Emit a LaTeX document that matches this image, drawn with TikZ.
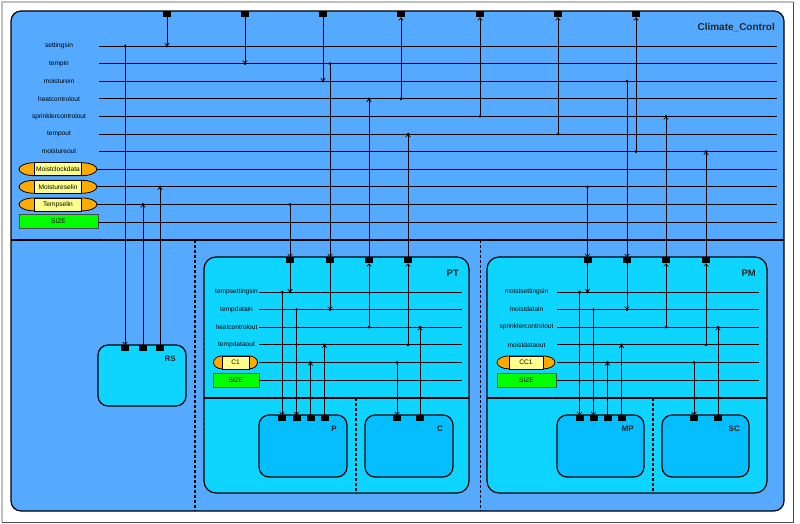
\documentclass[tikz,border=0pt]{standalone}
\usepackage{fontspec}
\setmainfont{Liberation Sans}
\usetikzlibrary{arrows.meta}
\definecolor{CCBlue}{RGB}{85,170,255}
\definecolor{CCCyan}{RGB}{13,213,255}
\definecolor{CCDeep}{RGB}{5,190,255}
\definecolor{CCOrange}{RGB}{255,170,0}
\definecolor{CCYellow}{RGB}{255,255,140}
\definecolor{CCGreen}{RGB}{0,255,0}
\newcommand{\smallfont}{\fontsize{6.6}{7}\selectfont}
\newcommand{\jdot}[1]{\fill #1 circle (1.5);}
\newcommand{\sigport}[2]{%
  \node[fill=black,minimum width=8pt,minimum height=6pt,inner sep=0pt,
    anchor=north] (#1) at #2 {};
}
\newcommand{\capsule}[5]{% position, name, outer half width, inner half width, text
  \begin{scope}[shift={#1}]
    \pgfmathsetmacro{\capend}{#3-#4}
    \draw[fill=CCOrange,line width=0.8pt]
      (-#4,-6.5) -- (#4,-6.5)
      arc[start angle=-90,end angle=90,x radius=\capend,y radius=6.5]
      -- (-#4,6.5)
      arc[start angle=90,end angle=270,x radius=\capend,y radius=6.5] -- cycle;
    \draw[fill=CCYellow,line width=0.8pt] (-#4,-6.5) rectangle (#4,6.5);
    \node[font=\smallfont,inner sep=0pt] (#2) at (0,0) {#5};
  \end{scope}
}

\begin{document}
\begin{tikzpicture}[x=1pt,y=-1pt,
    sig/.style={line width=0.7pt},
    boxline/.style={line width=1.2pt},
    dashline/.style={line width=1.2pt,dash pattern=on 3pt off 2pt},
    unitbox/.style={draw,line width=1.2pt,rounded corners=10pt},
    siglabel/.style={font=\smallfont,inner sep=0pt},
    sizebox/.style={draw=black!70,line width=0.8pt,fill=CCGreen,
      minimum height=14pt,inner sep=0pt,font=\smallfont},
    boxtitle/.style={font=\bfseries\fontsize{8}{9}\selectfont,anchor=east,
      inner sep=0pt,text=black!85},
    >={Straight Barb[length=2.5pt,width=4.5pt]}]
  \fill[white,use as bounding box] (0,0) rectangle (800,524);
  \draw[gray!50,line width=1.5pt] (2,522) |- (793,2);
  \draw[black!70,line width=1pt] (793,2) |- (2,522);

  % Boxes {{{
  \draw[unitbox,fill=CCBlue] (11,11) rectangle (784,511);
  \draw[boxline] (11,240) -- (784,240);
  \draw[dashline] (195,240) -- (195,511);
  \draw[dashline] (480.5,240) -- (480.5,511);

  \draw[unitbox,fill=CCCyan,rounded corners=12pt] (204,257) rectangle (469,493);
  \draw[boxline] (204,398) -- (469,398);
  \draw[dashline] (356,398) -- (356,493);
  \draw[unitbox,fill=CCCyan,rounded corners=12pt] (487,257) rectangle (767,493);
  \draw[boxline] (487,398) -- (767,398);
  \draw[dashline] (653,398) -- (653,493);

  \draw[unitbox,fill=CCCyan] (98,345) rectangle (186,406);
  \draw[unitbox,fill=CCDeep] (259,415) rectangle (347,477);
  \draw[unitbox,fill=CCDeep] (365,415) rectangle (453,477);
  \draw[unitbox,fill=CCDeep] (557,415) rectangle (644,477);
  \draw[unitbox,fill=CCDeep] (662,415) rectangle (749,477);

  \node[boxtitle,font=\bfseries\fontsize{10}{11}\selectfont] (cc-title) at (775,27) {Climate\_Control};
  \node[boxtitle,font=\bfseries\fontsize{9.5}{10}\selectfont] (pt-title) at (459,273) {PT};
  \node[boxtitle,font=\bfseries\fontsize{9.5}{10}\selectfont] (pm-title) at (756,273) {PM};
  \node[boxtitle] (rs-title) at (176,359) {RS};
  \node[boxtitle] (p-title) at (337,429) {P};
  \node[boxtitle] (c-title) at (443,429) {C};
  \node[boxtitle] (mp-title) at (634,429) {MP};
  \node[boxtitle] (sc-title) at (740,429) {SC};
  % }}}

  % Ports {{{
  \sigport{cc-1}{(167,11)}
  \sigport{cc-2}{(245,11)}
  \sigport{cc-3}{(323,11)}
  \sigport{cc-4}{(401,11)}
  \sigport{cc-5}{(480,11)}
  \sigport{cc-6}{(558,11)}
  \sigport{cc-7}{(636,11)}
  \sigport{rs-1}{(125,345)}
  \sigport{rs-2}{(143,345)}
  \sigport{rs-3}{(160,345)}
  \sigport{pt-1}{(290,257)}
  \sigport{pt-2}{(330,257)}
  \sigport{pt-3}{(369,257)}
  \sigport{pt-4}{(408,257)}
  \sigport{pm-1}{(587.5,257)}
  \sigport{pm-2}{(627,257)}
  \sigport{pm-3}{(666,257)}
  \sigport{pm-4}{(706,257)}
  \sigport{p-1}{(282,415)}
  \sigport{p-2}{(296.5,415)}
  \sigport{p-3}{(310.5,415)}
  \sigport{p-4}{(324.5,415)}
  \sigport{c-1}{(397,415)}
  \sigport{c-2}{(420,415)}
  \sigport{mp-1}{(579.5,415)}
  \sigport{mp-2}{(593.5,415)}
  \sigport{mp-3}{(607.5,415)}
  \sigport{mp-4}{(621.5,415)}
  \sigport{sc-1}{(694,415)}
  \sigport{sc-2}{(718,415)}
  % }}}

  % Climate_Control signals {{{
  \node[siglabel] (settingsin) at (59,46) {settingsin};
  \node[siglabel] (tempin) at (59,63.6) {tempin};
  \node[siglabel] (moisturein) at (59,81.2) {moisturein};
  \node[siglabel] (heatcontrolout) at (59,98.8) {heatcontrolout};
  \node[siglabel] (sprinklercontrolout) at (59,116.4) {sprinklercontrolout};
  \node[siglabel] (tempout) at (59,134) {tempout};
  \node[siglabel] (moistureout) at (59,151.6) {moistureout};
  \capsule{(58,169.2)}{moistclockdata}{39}{23.5}{Moistclockdata}
  \capsule{(58,186.8)}{moistureselin}{39}{23.5}{Moistureselin}
  \capsule{(58,204.4)}{tempselin}{39}{23.5}{Tempselin}
  \node[sizebox,minimum width=79pt] (size-cc) at (58.5,221) {SIZE};

  \draw[sig] (99,46) coordinate (settingsin-a) -- (777,46);
  \draw[sig] (99,63.6) coordinate (tempin-a) -- (777,63.6);
  \draw[sig] (99,81.2) coordinate (moisturein-a) -- (777,81.2);
  \draw[sig] (99,98.8) coordinate (heatcontrolout-a) -- (777,98.8);
  \draw[sig] (99,116.4) coordinate (sprinklercontrolout-a) -- (777,116.4);
  \draw[sig] (99,134) coordinate (tempout-a) -- (777,134);
  \draw[sig] (99,151.6) coordinate (moistureout-a) -- (777,151.6);
  \draw[sig] (moistclockdata.east -| 97,0) coordinate (moistclockdata-a) -- (777,169.2);
  \draw[sig] (moistureselin.east -| 97,0) coordinate (moistureselin-a) -- (777,186.8);
  \draw[sig] (tempselin.east -| 97,0) coordinate (tempselin-a) -- (777,204.4);
  \draw[sig] (size-cc.east |- 0,222) coordinate (size-cc-a) -- (777,222);

  \draw[sig,->] (cc-1.south) -- (cc-1.south |- settingsin-a);
  \draw[sig,->] (cc-2.south) -- (cc-2.south |- tempin-a);
  \draw[sig,->] (cc-3.south) -- (cc-3.south |- moisturein-a);
  \draw[sig,->] (cc-4.south |- heatcontrolout-a) -- (cc-4.south);
  \draw[sig,->] (cc-5.south |- sprinklercontrolout-a) -- (cc-5.south);
  \draw[sig,->] (cc-6.south |- tempout-a) -- (cc-6.south);
  \draw[sig,->] (cc-7.south |- moistureout-a) -- (cc-7.south);
  \jdot{(cc-1.south |- settingsin-a)}
  \jdot{(cc-2.south |- tempin-a)}
  \jdot{(cc-3.south |- moisturein-a)}
  \jdot{(cc-4.south |- heatcontrolout-a)}
  \jdot{(cc-5.south |- sprinklercontrolout-a)}
  \jdot{(cc-6.south |- tempout-a)}
  \jdot{(cc-7.south |- moistureout-a)}

  \draw[sig,->] (rs-1.north |- settingsin-a) -- (rs-1.north);
  \draw[sig,->] (rs-2.north) -- (rs-2.north |- tempselin-a);
  \draw[sig,->] (rs-3.north) -- (rs-3.north |- moistureselin-a);
  \draw[sig,->] (pt-1.north |- tempselin-a) -- (pt-1.north);
  \draw[sig,->] (pt-2.north |- tempin-a) -- (pt-2.north);
  \draw[sig,->] (pt-3.north) -- (pt-3.north |- heatcontrolout-a);
  \draw[sig,->] (pt-4.north) -- (pt-4.north |- tempout-a);
  \draw[sig,->] (pm-1.north |- moistureselin-a) -- (pm-1.north);
  \draw[sig,->] (pm-2.north |- moisturein-a) -- (pm-2.north);
  \draw[sig,->] (pm-3.north) -- (pm-3.north |- sprinklercontrolout-a);
  \draw[sig,->] (pm-4.north) -- (pm-4.north |- moistureout-a);
  \jdot{(rs-1.north |- settingsin-a)}
  \jdot{(rs-2.north |- tempselin-a)}
  \jdot{(rs-3.north |- moistureselin-a)}
  \jdot{(pt-1.north |- tempselin-a)}
  \jdot{(pt-2.north |- tempin-a)}
  \jdot{(pt-3.north |- heatcontrolout-a)}
  \jdot{(pt-4.north |- tempout-a)}
  \jdot{(pm-1.north |- moistureselin-a)}
  \jdot{(pm-2.north |- moisturein-a)}
  \jdot{(pm-3.north |- sprinklercontrolout-a)}
  \jdot{(pm-4.north |- moistureout-a)}
  % }}}

  % PT signals {{{
  \node[siglabel] (tempsettingsin) at (236.5,292) {tempsettingsin};
  \node[siglabel] (tempdatain) at (236.5,309.6) {tempdatain};
  \node[siglabel] (pt-heatcontrolout) at (236.5,327.2) {heatcontrolout};
  \node[siglabel] (tempdataout) at (236.5,344.8) {tempdataout};
  \capsule{(235.5,362.4)}{cap-c1}{22}{13.5}{C1}
  \node[sizebox,minimum width=46pt] (size-pt) at (236,380) {SIZE};

  \draw[sig] (259,292) coordinate (tempsettingsin-a) -- (462,292);
  \draw[sig] (259,309.6) coordinate (tempdatain-a) -- (462,309.6);
  \draw[sig] (259,327.2) coordinate (pt-heatcontrolout-a) -- (462,327.2);
  \draw[sig] (259,344.8) coordinate (tempdataout-a) -- (462,344.8);
  \draw[sig] (259,362.4) coordinate (cap-c1-a) -- (462,362.4);
  \draw[sig] (259,380) coordinate (size-pt-a) -- (462,380);

  \draw[sig,->] (pt-1.south) -- (pt-1.south |- tempsettingsin-a);
  \draw[sig,->] (pt-2.south) -- (pt-2.south |- tempdatain-a);
  \draw[sig,->] (pt-3.south |- pt-heatcontrolout-a) -- (pt-3.south);
  \draw[sig,->] (pt-4.south |- tempdataout-a) -- (pt-4.south);
  \draw[sig,->] (p-1.north |- tempsettingsin-a) -- (p-1.north);
  \draw[sig,->] (p-2.north |- tempdatain-a) -- (p-2.north);
  \draw[sig,->] (p-3.north) -- (p-3.north |- cap-c1-a);
  \draw[sig,->] (p-4.north) -- (p-4.north |- tempdataout-a);
  \draw[sig,->] (c-1.north |- cap-c1-a) -- (c-1.north);
  \draw[sig,->] (c-2.north) -- (c-2.north |- pt-heatcontrolout-a);
  \jdot{(pt-1.south |- tempsettingsin-a)}
  \jdot{(pt-2.south |- tempdatain-a)}
  \jdot{(pt-3.south |- pt-heatcontrolout-a)}
  \jdot{(pt-4.south |- tempdataout-a)}
  \jdot{(p-1.north |- tempsettingsin-a)}
  \jdot{(p-2.north |- tempdatain-a)}
  \jdot{(p-3.north |- cap-c1-a)}
  \jdot{(p-4.north |- tempdataout-a)}
  \jdot{(c-1.north |- cap-c1-a)}
  \jdot{(c-2.north |- pt-heatcontrolout-a)}
  % }}}

  % PM signals {{{
  \node[siglabel] (moistsettingsin) at (526.5,292) {moistsettingsin};
  \node[siglabel] (moistdatain) at (526.5,309.6) {moistdatain};
  \node[siglabel] (pm-sprinklercontrolout) at (526.5,327.2) {sprinklercontrolout};
  \node[siglabel] (moistdataout) at (526.5,344.8) {moistdataout};
  \capsule{(526,362.4)}{cap-cc1}{29}{17}{CC1}
  \node[sizebox,minimum width=59pt] (size-pm) at (526.5,380) {SIZE};

  \draw[sig] (557,292) coordinate (moistsettingsin-a) -- (759,292);
  \draw[sig] (557,309.6) coordinate (moistdatain-a) -- (759,309.6);
  \draw[sig] (557,327.2) coordinate (pm-sprinklercontrolout-a) -- (759,327.2);
  \draw[sig] (557,344.8) coordinate (moistdataout-a) -- (759,344.8);
  \draw[sig] (557,362.4) coordinate (cap-cc1-a) -- (759,362.4);
  \draw[sig] (557,380) coordinate (size-pm-a) -- (759,380);

  \draw[sig,->] (pm-1.south) -- (pm-1.south |- moistsettingsin-a);
  \draw[sig,->] (pm-2.south) -- (pm-2.south |- moistdatain-a);
  \draw[sig,->] (pm-3.south |- pm-sprinklercontrolout-a) -- (pm-3.south);
  \draw[sig,->] (pm-4.south |- moistdataout-a) -- (pm-4.south);
  \draw[sig,->] (mp-1.north |- moistsettingsin-a) -- (mp-1.north);
  \draw[sig,->] (mp-2.north |- moistdatain-a) -- (mp-2.north);
  \draw[sig,->] (mp-3.north) -- (mp-3.north |- cap-cc1-a);
  \draw[sig,->] (mp-4.north) -- (mp-4.north |- moistdataout-a);
  \draw[sig,->] (sc-1.north |- cap-cc1-a) -- (sc-1.north);
  \draw[sig,->] (sc-2.north) -- (sc-2.north |- pm-sprinklercontrolout-a);
  \jdot{(pm-1.south |- moistsettingsin-a)}
  \jdot{(pm-2.south |- moistdatain-a)}
  \jdot{(pm-3.south |- pm-sprinklercontrolout-a)}
  \jdot{(pm-4.south |- moistdataout-a)}
  \jdot{(mp-1.north |- moistsettingsin-a)}
  \jdot{(mp-2.north |- moistdatain-a)}
  \jdot{(mp-3.north |- cap-cc1-a)}
  \jdot{(mp-4.north |- moistdataout-a)}
  \jdot{(sc-1.north |- cap-cc1-a)}
  \jdot{(sc-2.north |- pm-sprinklercontrolout-a)}
  % }}}
\end{tikzpicture}
\end{document}
